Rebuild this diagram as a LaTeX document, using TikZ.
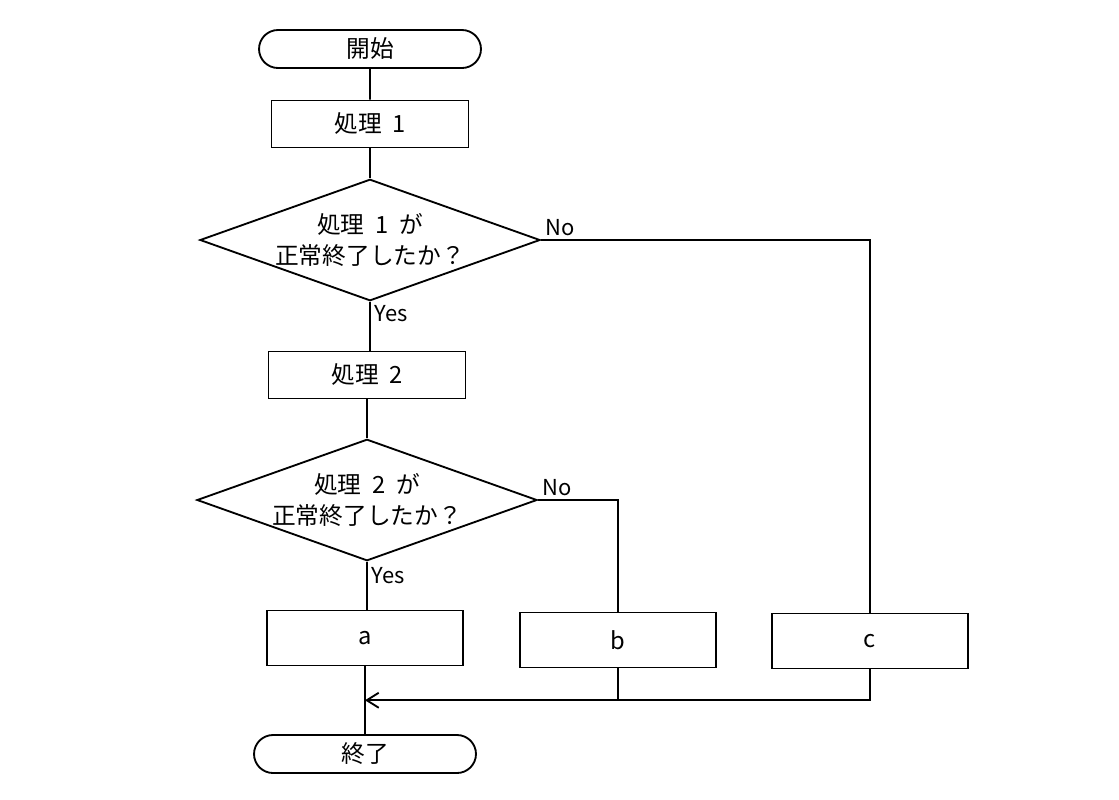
\documentclass[tikz,border=0pt]{standalone}
\usepackage{fontspec}
\setmainfont{Noto Sans CJK JP}
\usepackage{tikz}
\usetikzlibrary{arrows.meta, positioning, shapes.geometric, shapes.misc, calc}

\newcommand{\gap}{\hspace{0.45em}}

\begin{document}
\begin{tikzpicture}[x=0.02cm, y=-0.02cm, line width=1.05pt,
    font=\fontsize{13.5}{18}\selectfont,
    term/.style={draw, rounded rectangle, minimum width=4.44cm, minimum height=0.76cm, inner sep=0},
    proc/.style={draw, rectangle, minimum width=3.94cm, minimum height=0.94cm, inner sep=0},
    outbox/.style={draw, rectangle, minimum width=3.92cm, minimum height=1.1cm, inner sep=0},
    dec/.style={draw, diamond, aspect=2.8, inner sep=0, align=center},
    lbl/.style={font=\fontsize{12.5}{15}\selectfont, inner sep=2pt}]
  \useasboundingbox (0,0) rectangle (1119,799);

  % main column
  \node[term] (start) at (370,49) {開始};
  \node[proc] (p1) at (370,124) {処理\gap 1};
  \node[dec] (d1) at (370,240) {処理\gap 1\gap が\\正常終了したか？};
  \node[proc] (p2) at (367,375) {処理\gap 2};
  \node[dec] (d2) at (367,500) {処理\gap 2\gap が\\正常終了したか？};
  \node[outbox] (a) at (365,638) {a};
  \node[outbox] (b) at (618,640) {b};
  \node[outbox] (c) at (870,641) {c};
  \node[term] (end) at (365,754) {終了};

  \draw (start) -- (p1);
  \draw (p1) -- (d1);
  \draw (d1.south) -- node[lbl, pos=0.25, right] {Yes} (p2.north -| d1.south);
  \draw (p2) -- (d2);
  \draw (d2.south) -- node[lbl, pos=0.3, right] {Yes} (a.north -| d2.south);

  % No branches
  \draw (d1.east) -| (c.north);
  \node[lbl, above right=0pt and 0pt] (no1) at (d1.east) {No};
  \draw (d2.east) -| (b.north);
  \node[lbl, above right=0pt and 0pt] (no2) at (d2.east) {No};

  % merge
  \coordinate (join) at ($(a.south)!0.5!(end.north)$);
  \draw (a.south) -- (end.north);
  \draw[-{Straight Barb[length=0.24cm, width=0.3cm]}] (c.south) |- (join);
  \draw (b.south) -- (b.south |- join);
\end{tikzpicture}
\end{document}
